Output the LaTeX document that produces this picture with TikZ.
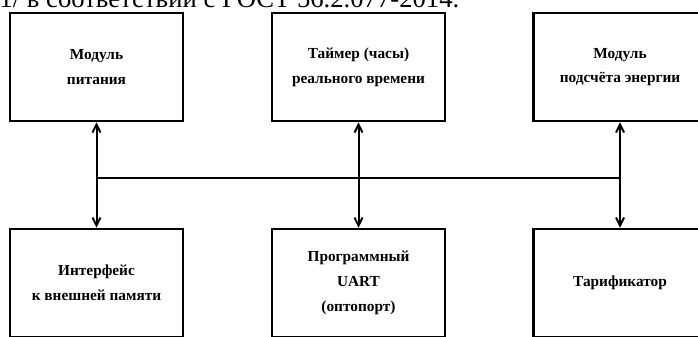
\documentclass[tikz,border=0pt]{standalone}
\usepackage{fontspec}
\setmainfont{Liberation Serif}
\usetikzlibrary{arrows.meta}

\tikzset{every picture/.style={line width=0.75pt}}
\tikzset{
  blockbox/.style={draw, line width=1.9pt, minimum width=130pt, minimum height=81pt,
    inner sep=0pt, align=center, font=\fontsize{11.5}{18.5}\selectfont\bfseries},
  link/.style={line width=1.5pt, {Straight Barb[length=6pt,width=6pt]}-{Straight Barb[length=6pt,width=6pt]}}
}

\begin{document}
\begin{tikzpicture}[x=0.75pt,y=0.75pt,yscale=-1,xscale=1]
    \useasboundingbox (0,0) rectangle (698,336);
    \clip (0,0) rectangle (698,336);

    % Text Node
    \draw (-1,7.5) node (note) [anchor=base west][inner sep=0pt] [font=\fontsize{20}{24}\selectfont] {1/ в соответствии с ГОСТ 56.2.077-2014.};

    %Shape: Rectangle (upper row)
    \node (power) [blockbox] at (96.5,67) {Модуль\\питания};
    \node (clock) [blockbox] at (358.5,67) {Таймер (часы)\\реального времени};
    \node (energy) [blockbox] at (620,67) {Модуль\\подсчёта энергии};

    %Shape: Rectangle (lower row)
    \node (memory) [blockbox] at (96.5,283) {Интерфейс\\к внешней памяти};
    \node (uart) [blockbox] at (358.5,283) {Программный\\UART\\(оптопорт)};
    \node (tariff) [blockbox] at (620,283) {Тарификатор};

    %Straight Lines
    \draw [link] (power) -- (memory);
    \draw [link] (clock) -- (uart);
    \draw [link] (energy) -- (tariff);

    %Straight Lines (bus)
    \coordinate (busL) at (96.5,178);
    \coordinate (busR) at (620,178);
    \draw [line width=1.5pt] (busL) -- (busR);

\end{tikzpicture}
\end{document}
